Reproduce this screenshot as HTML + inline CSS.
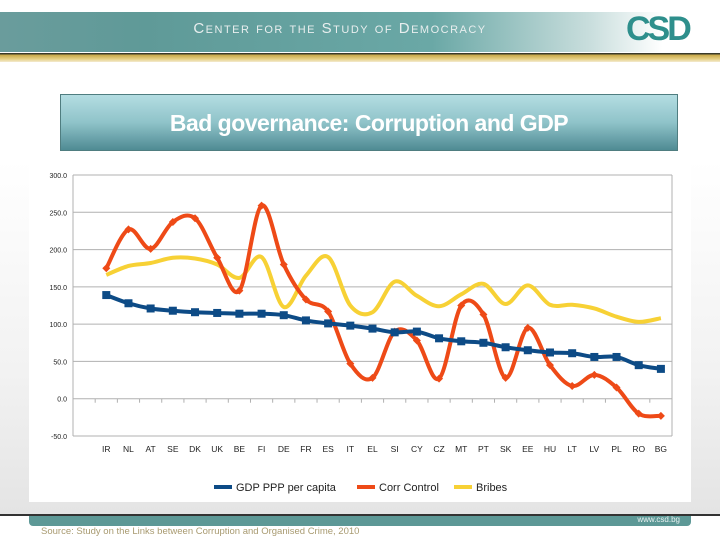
<!DOCTYPE html>
<html><head><meta charset="utf-8"><style>
body{margin:0;width:720px;height:540px;overflow:hidden;background:#fff;font-family:"Liberation Sans",sans-serif;position:relative}
.abs{position:absolute}
</style></head><body>
<div class="abs" style="left:0;top:12px;width:720px;height:40px;background:linear-gradient(90deg,#6a9c9c 0%,#5f9a98 20%,#6aa8a6 60%,#c9dedd 82%,#fff 92%)"></div>
<div class="abs" style="left:0;top:53px;width:720px;height:9px;background:linear-gradient(180deg,#3a3a2a 0,#3a3a2a 1px,#c9a94a 2px,#e6cf83 6px,#f3ead0 9px)"></div>
<div class="abs" style="left:160px;top:20px;width:360px;text-align:center;color:#e8eeee;font-size:15px;letter-spacing:1.5px;font-variant:small-caps">Center for the Study of Democracy</div>
<div class="abs" style="left:626px;top:10px;font-size:34px;font-weight:bold;color:#2e8f8c;letter-spacing:-3px">CSD</div>
<div class="abs" style="left:0;top:160px;width:720px;height:354px;background:linear-gradient(180deg,#fff,#f2f2f2 60%,#e4e4e4)"></div>
<div class="abs" style="left:29px;top:155px;width:662px;height:347px;background:#fff"></div>
<div class="abs" style="left:60px;top:94px;width:618px;height:57px;background:linear-gradient(180deg,#b4dde2,#8fc3c9 50%,#4f8b93);border:1px solid #4f7d80;box-sizing:border-box;color:#fff;font-size:23px;font-weight:bold;text-align:center;line-height:57px;letter-spacing:-0.5px">Bad governance: Corruption and GDP</div>
<div class="abs" style="left:0;top:514px;width:720px;height:2px;background:#333"></div>
<div class="abs" style="left:29px;top:516px;width:662px;height:10px;background:#5d9896;border-radius:0 0 4px 4px"></div>
<div class="abs" style="left:600px;top:515px;width:80px;text-align:right;color:#e8f0f0;font-size:8px">www.csd.bg</div>
<div class="abs" style="left:41px;top:526px;color:#a89a70;font-size:9.5px">Source: Study on the Links between Corruption and Organised Crime, 2010</div>
<svg class="abs" style="left:0;top:0" width="720" height="540" id="chart"></svg>
<script>
const categories=["","IR","NL","AT","SE","DK","UK","BE","FI","DE","FR","ES","IT","EL","SI","CY","CZ","MT","PT","SK","EE","HU","LT","LV","PL","RO","BG"];
const gdp=[null,139,128,121,118,116,115,114,114,112,105,101,98,94,89,90,81,77,75,69,65,62,61,56,56,45,40];
const corr=[null,175,227,201,237,242,189,145,259,180,133,117,47,28,90,78,27,125,113,28,95,45,17,32,15,-20,-23];
const bribes=[null,166,178,182,189,188,180,162,190,123,165,190,125,116,157,138,124,140,154,127,152,126,126,121,110,103,108];
const yTicks=[300,250,200,150,100,50,0,-50];
const yLabels=["300.0","250.0","200.0","150.0","100.0","50.0","0.0","-50.0"];
const L=73,R=672,T=175,B=436;
const X=i=>L+(R-L)/categories.length*(i+0.5);
const Y=v=>B-(v+50)/350*(B-T);
const svg=document.getElementById('chart');const NS='http://www.w3.org/2000/svg';
function mk(t,a){const e=document.createElementNS(NS,t);for(const k in a)e.setAttribute(k,a[k]);svg.appendChild(e);return e;}
yTicks.forEach((v,i)=>{
 const g=mk('line',{x1:L,x2:R,y1:Y(v),y2:Y(v),stroke:'#b0b0b0','stroke-width':1});
 
 
 const t=mk('text',{x:L-6,y:Y(v)+3,'font-size':7,'text-anchor':'end',fill:'#222','font-family':'Liberation Sans'});
 t.textContent=yLabels[i];
 
 
});
const ax=mk('line',{x1:L,x2:L,y1:T,y2:B,stroke:'#b0b0b0'});
const ax2=mk('line',{x1:R,x2:R,y1:T,y2:B,stroke:'#b0b0b0'});
categories.forEach((c,i)=>{
 const tk=mk('line',{x1:L+(R-L)/categories.length*(i+1),x2:L+(R-L)/categories.length*(i+1),y1:Y(0),y2:Y(0)+4,stroke:'#b0b0b0'});
 
 
 if(!c)return;
 const t=mk('text',{x:X(i),y:452,'font-size':8.5,'text-anchor':'middle',fill:'#222','font-family':'Liberation Sans'});
 t.textContent=c;
 
 
});
function smooth(vals){
 const p=[];vals.forEach((v,i)=>{if(v!==null)p.push([X(i),Y(v)]);});
 let d='M'+p[0][0]+','+p[0][1];
 for(let i=0;i<p.length-1;i++){const p0=p[i-1]||p[i],p1=p[i],p2=p[i+1],p3=p[i+2]||p2;
  d+=' C'+(p1[0]+(p2[0]-p0[0])/6)+','+(p1[1]+(p2[1]-p0[1])/6)+' '+(p2[0]-(p3[0]-p1[0])/6)+','+(p2[1]-(p3[1]-p1[1])/6)+' '+p2[0]+','+p2[1];}
 return d;}
const sb=mk('path',{d:smooth(bribes),fill:'none',stroke:'#f7d135','stroke-width':4});
const sc=mk('path',{d:smooth(corr),fill:'none',stroke:'#ee4a17','stroke-width':4});
corr.forEach((v,i)=>{if(v===null)return;const m=mk('path',{d:`M${X(i)},${Y(v)-4}l4,4l-4,4l-4,-4z`,fill:'#ee4a17'});});
const sg=mk('path',{d:smooth(gdp),fill:'none',stroke:'#0d4b86','stroke-width':4});
gdp.forEach((v,i)=>{if(v===null)return;const m=mk('rect',{x:X(i)-4,y:Y(v)-4,width:8,height:8,fill:'#0d4b86'});});
const leg=[['GDP PPP per capita','#0d4b86',214],['Corr Control','#ee4a17',357],['Bribes','#f7d135',454]];
leg.forEach(l=>{
 const s=mk('line',{x1:l[2],x2:l[2]+18,y1:487,y2:487,stroke:l[1],'stroke-width':4});
 
 
 const t=mk('text',{x:l[2]+22,y:491,'font-size':11,fill:'#222','font-family':'Liberation Sans'});
 t.textContent=l[0];
 
 
});
</script>
</body></html>
